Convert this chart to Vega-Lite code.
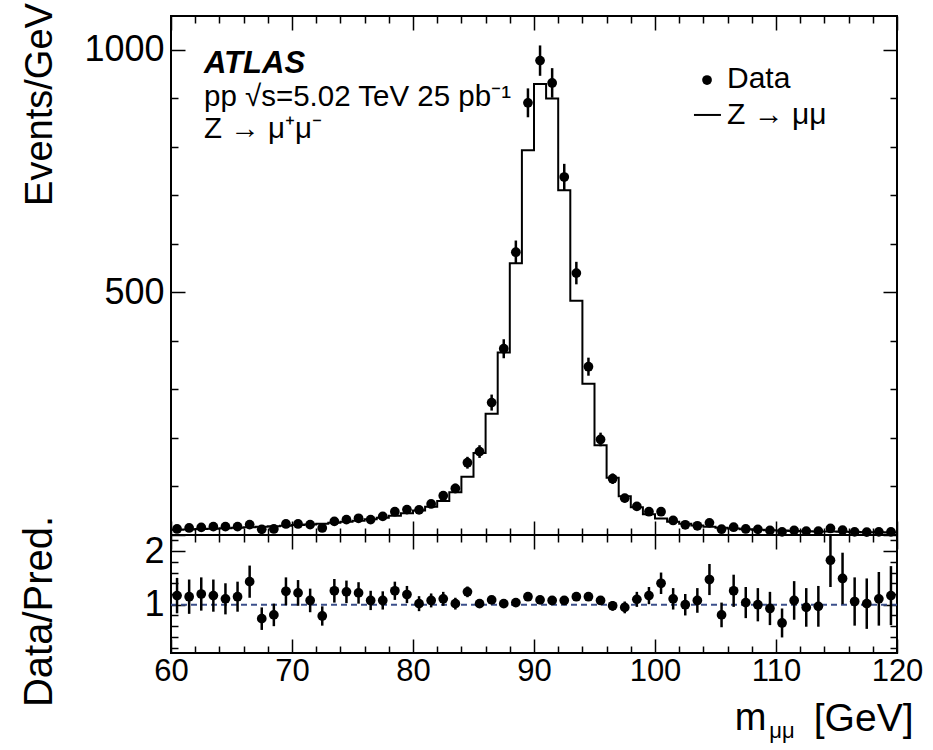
{
  "$schema": "https://vega.github.io/schema/vega-lite/v6.json",
  "background": "white",
  "padding": {"left": 17, "top": 1, "right": 5, "bottom": 5},
  "spacing": 0,
  "bounds": "flush",
  "config": {
    "view": {"stroke": "black", "strokeWidth": 2},
    "axis": {"domain": false, "grid": false, "labelFont": "Liberation Sans", "titleFont": "Liberation Sans", "labelColor": "black", "titleColor": "black", "tickColor": "black", "tickWidth": 1.5, "labelOverlap": false, "labelFlush": false, "labelBound": false, "titleFontWeight": "normal"},
    "text": {"font": "Liberation Sans", "color": "black"}
  },
  "datasets": {
    "bins": [
      {"m": 60.5, "data": 12.4, "err": 3.5, "ratio": 1.17, "rerr": 0.33},
      {"m": 61.5, "data": 14.5, "err": 3.8, "ratio": 1.15, "rerr": 0.32},
      {"m": 62.5, "data": 15.8, "err": 4.0, "ratio": 1.20, "rerr": 0.31},
      {"m": 63.5, "data": 17.2, "err": 4.1, "ratio": 1.17, "rerr": 0.30},
      {"m": 64.5, "data": 17.2, "err": 4.1, "ratio": 1.11, "rerr": 0.29},
      {"m": 65.5, "data": 17.2, "err": 4.1, "ratio": 1.15, "rerr": 0.28},
      {"m": 66.5, "data": 21.4, "err": 4.6, "ratio": 1.43, "rerr": 0.30},
      {"m": 67.5, "data": 11.7, "err": 3.4, "ratio": 0.74, "rerr": 0.21},
      {"m": 68.5, "data": 12.4, "err": 3.5, "ratio": 0.81, "rerr": 0.21},
      {"m": 69.5, "data": 22.7, "err": 4.8, "ratio": 1.25, "rerr": 0.26},
      {"m": 70.5, "data": 22.7, "err": 4.8, "ratio": 1.22, "rerr": 0.24},
      {"m": 71.5, "data": 21.4, "err": 4.6, "ratio": 1.08, "rerr": 0.22},
      {"m": 72.5, "data": 14.5, "err": 3.8, "ratio": 0.79, "rerr": 0.18},
      {"m": 73.5, "data": 28.0, "err": 5.3, "ratio": 1.26, "rerr": 0.22},
      {"m": 74.5, "data": 31.7, "err": 5.6, "ratio": 1.24, "rerr": 0.21},
      {"m": 75.5, "data": 34.4, "err": 5.9, "ratio": 1.22, "rerr": 0.20},
      {"m": 76.5, "data": 31.7, "err": 5.6, "ratio": 1.08, "rerr": 0.18},
      {"m": 77.5, "data": 38.5, "err": 6.2, "ratio": 1.08, "rerr": 0.17},
      {"m": 78.5, "data": 48.0, "err": 6.9, "ratio": 1.26, "rerr": 0.17},
      {"m": 79.5, "data": 52.4, "err": 7.2, "ratio": 1.19, "rerr": 0.16},
      {"m": 80.5, "data": 51.7, "err": 7.2, "ratio": 1.02, "rerr": 0.14},
      {"m": 81.5, "data": 64.0, "err": 8.0, "ratio": 1.08, "rerr": 0.13},
      {"m": 82.5, "data": 81.0, "err": 9.0, "ratio": 1.11, "rerr": 0.13},
      {"m": 83.5, "data": 96.0, "err": 9.8, "ratio": 1.02, "rerr": 0.11},
      {"m": 84.5, "data": 149, "err": 12.2, "ratio": 1.24, "rerr": 0.10},
      {"m": 85.5, "data": 172, "err": 13.1, "ratio": 1.02, "rerr": 0.08},
      {"m": 86.5, "data": 273, "err": 16.5, "ratio": 1.09, "rerr": 0.07},
      {"m": 87.5, "data": 384, "err": 19.6, "ratio": 1.02, "rerr": 0.05},
      {"m": 88.5, "data": 583, "err": 24.1, "ratio": 1.04, "rerr": 0.04},
      {"m": 89.5, "data": 891, "err": 29.8, "ratio": 1.15, "rerr": 0.04},
      {"m": 90.5, "data": 978, "err": 31.3, "ratio": 1.09, "rerr": 0.03},
      {"m": 91.5, "data": 932, "err": 30.5, "ratio": 1.08, "rerr": 0.03},
      {"m": 92.5, "data": 738, "err": 27.2, "ratio": 1.08, "rerr": 0.04},
      {"m": 93.5, "data": 540, "err": 23.2, "ratio": 1.15, "rerr": 0.05},
      {"m": 94.5, "data": 347, "err": 18.6, "ratio": 1.15, "rerr": 0.06},
      {"m": 95.5, "data": 197, "err": 14.0, "ratio": 1.08, "rerr": 0.08},
      {"m": 96.5, "data": 116, "err": 10.8, "ratio": 0.98, "rerr": 0.09},
      {"m": 97.5, "data": 76, "err": 8.7, "ratio": 0.95, "rerr": 0.11},
      {"m": 98.5, "data": 59, "err": 7.7, "ratio": 1.10, "rerr": 0.14},
      {"m": 99.5, "data": 48, "err": 6.9, "ratio": 1.17, "rerr": 0.16},
      {"m": 100.5, "data": 48, "err": 6.9, "ratio": 1.40, "rerr": 0.20},
      {"m": 101.5, "data": 30, "err": 5.5, "ratio": 1.11, "rerr": 0.20},
      {"m": 102.5, "data": 21, "err": 4.6, "ratio": 1.00, "rerr": 0.20},
      {"m": 103.5, "data": 19, "err": 4.4, "ratio": 1.08, "rerr": 0.23},
      {"m": 104.5, "data": 25, "err": 5.0, "ratio": 1.47, "rerr": 0.29},
      {"m": 105.5, "data": 12, "err": 3.5, "ratio": 0.81, "rerr": 0.23},
      {"m": 106.5, "data": 16, "err": 4.0, "ratio": 1.26, "rerr": 0.30},
      {"m": 107.5, "data": 12.4, "err": 3.5, "ratio": 1.04, "rerr": 0.29},
      {"m": 108.5, "data": 11.7, "err": 3.4, "ratio": 1.00, "rerr": 0.31},
      {"m": 109.5, "data": 9.5, "err": 3.1, "ratio": 0.93, "rerr": 0.31},
      {"m": 110.5, "data": 6.5, "err": 2.5, "ratio": 0.66, "rerr": 0.27},
      {"m": 111.5, "data": 9.5, "err": 3.1, "ratio": 1.08, "rerr": 0.36},
      {"m": 112.5, "data": 8.0, "err": 2.8, "ratio": 0.95, "rerr": 0.36},
      {"m": 113.5, "data": 7.8, "err": 2.8, "ratio": 0.97, "rerr": 0.38},
      {"m": 114.5, "data": 13.5, "err": 3.7, "ratio": 1.83, "rerr": 0.50},
      {"m": 115.5, "data": 10.0, "err": 3.2, "ratio": 1.49, "rerr": 0.48},
      {"m": 116.5, "data": 6.5, "err": 2.5, "ratio": 1.06, "rerr": 0.45},
      {"m": 117.5, "data": 6.0, "err": 2.4, "ratio": 1.02, "rerr": 0.47},
      {"m": 118.5, "data": 6.5, "err": 2.5, "ratio": 1.11, "rerr": 0.50},
      {"m": 119.5, "data": 6.5, "err": 2.5, "ratio": 1.17, "rerr": 0.55}
    ],
    "mc": [
      {"edge": 60, "mc": 10.6}, {"edge": 61, "mc": 11.4}, {"edge": 62, "mc": 12.2}, {"edge": 63, "mc": 13.0},
      {"edge": 64, "mc": 13.9}, {"edge": 65, "mc": 14.8}, {"edge": 66, "mc": 15.8}, {"edge": 67, "mc": 16.8},
      {"edge": 68, "mc": 17.9}, {"edge": 69, "mc": 19.1}, {"edge": 70, "mc": 20.4}, {"edge": 71, "mc": 21.8},
      {"edge": 72, "mc": 23.4}, {"edge": 73, "mc": 25.2}, {"edge": 74, "mc": 27.2}, {"edge": 75, "mc": 29.6},
      {"edge": 76, "mc": 32.4}, {"edge": 77, "mc": 35.8}, {"edge": 78, "mc": 39.8}, {"edge": 79, "mc": 44.6},
      {"edge": 80, "mc": 50.6}, {"edge": 81, "mc": 58.5}, {"edge": 82, "mc": 70}, {"edge": 83, "mc": 88},
      {"edge": 84, "mc": 120}, {"edge": 85, "mc": 169}, {"edge": 86, "mc": 250}, {"edge": 87, "mc": 376},
      {"edge": 88, "mc": 560}, {"edge": 89, "mc": 793}, {"edge": 90, "mc": 930}, {"edge": 91, "mc": 900},
      {"edge": 92, "mc": 711}, {"edge": 93, "mc": 483}, {"edge": 94, "mc": 312}, {"edge": 95, "mc": 185},
      {"edge": 96, "mc": 118}, {"edge": 97, "mc": 80}, {"edge": 98, "mc": 57}, {"edge": 99, "mc": 43},
      {"edge": 100, "mc": 34}, {"edge": 101, "mc": 27.5}, {"edge": 102, "mc": 23}, {"edge": 103, "mc": 19.5},
      {"edge": 104, "mc": 17}, {"edge": 105, "mc": 15}, {"edge": 106, "mc": 13.3}, {"edge": 107, "mc": 12},
      {"edge": 108, "mc": 10.9}, {"edge": 109, "mc": 10}, {"edge": 110, "mc": 9.2}, {"edge": 111, "mc": 8.5},
      {"edge": 112, "mc": 7.9}, {"edge": 113, "mc": 7.4}, {"edge": 114, "mc": 7.0}, {"edge": 115, "mc": 6.6},
      {"edge": 116, "mc": 6.2}, {"edge": 117, "mc": 5.9}, {"edge": 118, "mc": 5.6}, {"edge": 119, "mc": 5.4},
      {"edge": 120, "mc": 5.4}
    ]
  },
  "vconcat": [
    {
      "width": 726,
      "height": 519,
      "data": {"name": "bins"},
      "resolve": {"axis": {"x": "independent", "y": "independent"}},
      "layer": [
        {
          "data": {"name": "mc"},
          "mark": {"type": "line", "interpolate": "step-after", "color": "black", "strokeWidth": 2},
          "encoding": {
            "x": {"field": "edge", "type": "quantitative", "scale": {"domain": [60, 120], "nice": false, "zero": false},
              "axis": {"orient": "bottom", "values": [60,62,64,66,68,70,72,74,76,78,80,82,84,86,88,90,92,94,96,98,100,102,104,106,108,110,112,114,116,118,120], "labels": false, "title": null,
                "tickSize": {"condition": {"test": "datum.value % 10 === 0", "value": -14}, "value": -7}}},
            "y": {"field": "mc", "type": "quantitative", "scale": {"domain": [0, 1070], "nice": false, "zero": true},
              "axis": {"orient": "left", "values": [0,100,200,300,400,500,600,700,800,900,1000], "format": "d",
                "labelExpr": "datum.value === 500 || datum.value === 1000 ? datum.label : ''",
                "labelFontSize": 36, "labelPadding": 21,
                "tickSize": {"condition": {"test": "datum.value % 500 === 0", "value": -14}, "value": -7},
                "title": "Events/GeV", "titleFontSize": 38, "titleAngle": 270, "titleAlign": "center", "titleBaseline": "alphabetic",
                "titleX": -120, "titleY": 88}}
          }
        },
        {
          "mark": {"type": "errorbar", "ticks": false, "thickness": 2.5, "color": "black"},
          "encoding": {
            "x": {"field": "m", "type": "quantitative",
              "axis": {"orient": "top", "values": [60,62,64,66,68,70,72,74,76,78,80,82,84,86,88,90,92,94,96,98,100,102,104,106,108,110,112,114,116,118,120], "labels": false, "title": null,
                "tickSize": {"condition": {"test": "datum.value % 10 === 0", "value": -14}, "value": -7}}},
            "y": {"field": "data", "type": "quantitative",
              "axis": {"orient": "right", "values": [0,100,200,300,400,500,600,700,800,900,1000], "labels": false, "title": null,
                "tickSize": {"condition": {"test": "datum.value % 500 === 0", "value": -14}, "value": -7}}},
            "yError": {"field": "err"}
          }
        },
        {
          "mark": {"type": "point", "filled": true, "size": 95, "color": "black", "opacity": 1},
          "encoding": {
            "x": {"field": "m", "type": "quantitative", "axis": null},
            "y": {"field": "data", "type": "quantitative", "axis": null}
          }
        },
        {
          "data": {"values": [{}]},
          "mark": {"type": "text", "fontSize": 31, "fontWeight": "bold", "fontStyle": "italic", "align": "left", "baseline": "alphabetic"},
          "encoding": {
            "x": {"datum": 62.73, "type": "quantitative", "axis": null},
            "y": {"datum": 952, "type": "quantitative", "axis": null},
            "text": {"value": "ATLAS"}
          }
        },
        {
          "data": {"values": [{}]},
          "mark": {"type": "text", "fontSize": 29.5, "align": "left", "baseline": "alphabetic"},
          "encoding": {
            "x": {"datum": 62.73, "type": "quantitative", "axis": null},
            "y": {"datum": 884.5, "type": "quantitative", "axis": null},
            "text": {"value": "pp  √s=5.02 TeV 25 pb⁻¹"}
          }
        },
        {
          "data": {"values": [{}]},
          "mark": {"type": "text", "fontSize": 29.5, "align": "left", "baseline": "alphabetic"},
          "encoding": {
            "x": {"datum": 62.73, "type": "quantitative", "axis": null},
            "y": {"datum": 818.5, "type": "quantitative", "axis": null},
            "text": {"value": "Z → μ⁺μ⁻"}
          }
        },
        {
          "data": {"values": [{}]},
          "mark": {"type": "point", "filled": true, "size": 95, "color": "black", "opacity": 1},
          "encoding": {
            "x": {"datum": 104.3, "type": "quantitative", "axis": null},
            "y": {"datum": 938, "type": "quantitative", "axis": null}
          }
        },
        {
          "data": {"values": [{}]},
          "mark": {"type": "text", "fontSize": 30, "align": "left", "baseline": "alphabetic"},
          "encoding": {
            "x": {"datum": 105.95, "type": "quantitative", "axis": null},
            "y": {"datum": 922, "type": "quantitative", "axis": null},
            "text": {"value": "Data"}
          }
        },
        {
          "data": {"values": [{}]},
          "mark": {"type": "rule", "color": "black", "strokeWidth": 2},
          "encoding": {
            "x": {"datum": 103.22, "type": "quantitative", "axis": null},
            "x2": {"datum": 105.45},
            "y": {"datum": 866, "type": "quantitative", "axis": null}
          }
        },
        {
          "data": {"values": [{}]},
          "mark": {"type": "text", "fontSize": 30, "align": "left", "baseline": "alphabetic"},
          "encoding": {
            "x": {"datum": 105.95, "type": "quantitative", "axis": null},
            "y": {"datum": 847, "type": "quantitative", "axis": null},
            "text": {"value": "Z → μμ"}
          }
        }
      ]
    },
    {
      "width": 726,
      "height": 118,
      "data": {"name": "bins"},
      "resolve": {"axis": {"x": "independent", "y": "independent"}},
      "layer": [
        {
          "data": {"values": [{}]},
          "mark": {"type": "rule", "color": "#3b4f8a", "strokeWidth": 2, "strokeDash": [6, 4]},
          "encoding": {
            "y": {"datum": 1, "type": "quantitative", "scale": {"domain": [0.1, 2.3], "nice": false, "zero": false}, "axis": null}
          }
        },
        {
          "mark": {"type": "errorbar", "ticks": false, "thickness": 2.5, "color": "black", "clip": true},
          "encoding": {
            "x": {"field": "m", "type": "quantitative", "scale": {"domain": [60, 120], "nice": false, "zero": false},
              "axis": {"orient": "bottom", "values": [60,62,64,66,68,70,72,74,76,78,80,82,84,86,88,90,92,94,96,98,100,102,104,106,108,110,112,114,116,118,120], "format": "d",
                "labelExpr": "datum.value % 10 === 0 ? datum.label : ''", "labelFontSize": 31, "labelPadding": 17,
                "tickSize": {"condition": {"test": "datum.value % 10 === 0", "value": -14}, "value": -7},
                "title": "[GeV]", "titleFontSize": 39, "titleAlign": "right", "titleBaseline": "alphabetic", "titleX": 742, "titleY": 77}},
            "y": {"field": "ratio", "type": "quantitative",
              "axis": {"orient": "left", "values": [0.2,0.4,0.6,0.8,1,1.2,1.4,1.6,1.8,2,2.2], "format": "~g",
                "labelExpr": "datum.value === 1 || datum.value === 2 ? datum.label : ''", "labelFontSize": 36, "labelPadding": 21,
                "tickSize": {"condition": {"test": "datum.value === 1 || datum.value === 2", "value": -14}, "value": -7},
                "title": "Data/Pred.", "titleFontSize": 40, "titleAngle": 270, "titleAlign": "center", "titleBaseline": "alphabetic",
                "titleX": -120, "titleY": 76}},
            "yError": {"field": "rerr"}
          }
        },
        {
          "mark": {"type": "point", "filled": true, "size": 95, "color": "black", "opacity": 1, "clip": true},
          "encoding": {
            "x": {"field": "m", "type": "quantitative",
              "axis": {"orient": "top", "values": [60,62,64,66,68,70,72,74,76,78,80,82,84,86,88,90,92,94,96,98,100,102,104,106,108,110,112,114,116,118,120], "labels": false, "title": null,
                "tickSize": {"condition": {"test": "datum.value % 10 === 0", "value": -14}, "value": -7}}},
            "y": {"field": "ratio", "type": "quantitative",
              "axis": {"orient": "right", "values": [0.2,0.4,0.6,0.8,1,1.2,1.4,1.6,1.8,2,2.2], "labels": false, "title": null,
                "tickSize": {"condition": {"test": "datum.value === 1 || datum.value === 2", "value": -14}, "value": -7}}}
          }
        },
        {
          "data": {"values": [{}]},
          "mark": {"type": "text", "fontSize": 38, "align": "right", "baseline": "alphabetic"},
          "encoding": {
            "x": {"datum": 109.2, "type": "quantitative", "axis": null},
            "y": {"datum": -1.335, "type": "quantitative", "axis": null},
            "text": {"value": "m"}
          }
        },
        {
          "data": {"values": [{}]},
          "mark": {"type": "text", "fontSize": 22, "align": "left", "baseline": "alphabetic"},
          "encoding": {
            "x": {"datum": 109.45, "type": "quantitative", "axis": null},
            "y": {"datum": -1.485, "type": "quantitative", "axis": null},
            "text": {"value": "μμ"}
          }
        }
      ]
    }
  ]
}
